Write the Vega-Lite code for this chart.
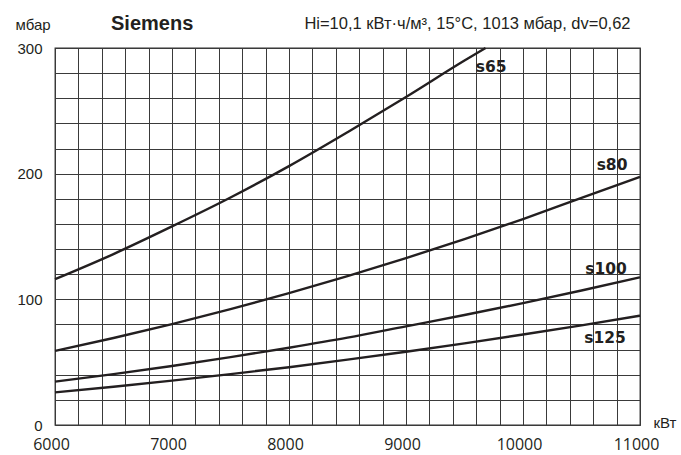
{
  "$schema": "https://vega.github.io/schema/vega-lite/v6.json",
  "width": 585,
  "height": 377,
  "autosize": {"type": "none"},
  "padding": {"left": 55, "top": 48, "right": 41, "bottom": 30},
  "background": "white",
  "config": {
    "view": {"stroke": "#333333", "strokeWidth": 1.3},
    "axis": {"labelColor": "#231f20", "titleColor": "#231f20", "labelOverlap": false, "labelFlush": false}
  },
  "title": {
    "text": "Siemens",
    "anchor": "start",
    "frame": "group",
    "dx": 56,
    "offset": -35,
    "baseline": "alphabetic",
    "font": "Liberation Sans",
    "fontSize": 20,
    "fontWeight": "bold",
    "color": "#231f20"
  },
  "datasets": {
    "curves": [
      {"series": "s65", "kw": 6000, "mbar": 116},
      {"series": "s65", "kw": 6500, "mbar": 136},
      {"series": "s65", "kw": 7000, "mbar": 158},
      {"series": "s65", "kw": 7500, "mbar": 181},
      {"series": "s65", "kw": 8000, "mbar": 206},
      {"series": "s65", "kw": 8500, "mbar": 233},
      {"series": "s65", "kw": 9000, "mbar": 261},
      {"series": "s65", "kw": 9500, "mbar": 290},
      {"series": "s65", "kw": 9680, "mbar": 300},
      {"series": "s80", "kw": 6000, "mbar": 59},
      {"series": "s80", "kw": 6500, "mbar": 69.2},
      {"series": "s80", "kw": 7000, "mbar": 80.3},
      {"series": "s80", "kw": 7500, "mbar": 92.2},
      {"series": "s80", "kw": 8000, "mbar": 104.9},
      {"series": "s80", "kw": 8500, "mbar": 118.4},
      {"series": "s80", "kw": 9000, "mbar": 132.8},
      {"series": "s80", "kw": 9500, "mbar": 147.9},
      {"series": "s80", "kw": 10000, "mbar": 163.9},
      {"series": "s80", "kw": 10500, "mbar": 180.7},
      {"series": "s80", "kw": 11000, "mbar": 197.5},
      {"series": "s100", "kw": 6000, "mbar": 34.5},
      {"series": "s100", "kw": 6500, "mbar": 40.5},
      {"series": "s100", "kw": 7000, "mbar": 47},
      {"series": "s100", "kw": 7500, "mbar": 54},
      {"series": "s100", "kw": 8000, "mbar": 61.5},
      {"series": "s100", "kw": 8500, "mbar": 69.5},
      {"series": "s100", "kw": 9000, "mbar": 78.5},
      {"series": "s100", "kw": 9500, "mbar": 87.5},
      {"series": "s100", "kw": 10000, "mbar": 97},
      {"series": "s100", "kw": 10500, "mbar": 107},
      {"series": "s100", "kw": 11000, "mbar": 117.5},
      {"series": "s125", "kw": 6000, "mbar": 26},
      {"series": "s125", "kw": 6500, "mbar": 30.4},
      {"series": "s125", "kw": 7000, "mbar": 35.3},
      {"series": "s125", "kw": 7500, "mbar": 40.5},
      {"series": "s125", "kw": 8000, "mbar": 46},
      {"series": "s125", "kw": 8500, "mbar": 52},
      {"series": "s125", "kw": 9000, "mbar": 58.3},
      {"series": "s125", "kw": 9500, "mbar": 65},
      {"series": "s125", "kw": 10000, "mbar": 72},
      {"series": "s125", "kw": 10500, "mbar": 79.3},
      {"series": "s125", "kw": 11000, "mbar": 87}
    ],
    "labels": [
      {"series": "s65", "kw": 9727, "mbar": 285},
      {"series": "s80", "kw": 10761, "mbar": 207},
      {"series": "s100", "kw": 10710, "mbar": 124},
      {"series": "s125", "kw": 10701, "mbar": 69}
    ]
  },
  "layer": [
    {
      "data": {"name": "curves"},
      "mark": {"type": "line", "interpolate": "monotone", "color": "#231f20", "strokeWidth": 2.4},
      "encoding": {
        "x": {
          "field": "kw",
          "type": "quantitative",
          "scale": {"domain": [6000, 11000], "nice": false, "zero": false},
          "axis": {
            "values": [6000, 6200, 6400, 6600, 6800, 7000, 7200, 7400, 7600, 7800, 8000, 8200, 8400, 8600, 8800, 9000, 9200, 9400, 9600, 9800, 10000, 10200, 10400, 10600, 10800, 11000],
            "labelExpr": "datum.value % 1000 === 0 ? '' + datum.value : ''",
            "labelOverlap": false,
            "labelFlush": false,
            "labelOffset": -4,
            "labelFont": "Open Sans",
            "labelFontSize": 16,
            "labelPadding": 11,
            "ticks": false,
            "domain": false,
            "grid": true,
            "gridColor": "#3a3a3a",
            "gridWidth": 1,
            "gridOpacity": 1,
            "title": "кВт",
            "titleFont": "Liberation Sans",
            "titleFontSize": 15,
            "titleFontWeight": "normal",
            "titleAlign": "left",
            "titleBaseline": "middle",
            "titleAnchor": "start",
            "titleX": 598,
            "titleY": -3
          }
        },
        "y": {
          "field": "mbar",
          "type": "quantitative",
          "scale": {"domain": [0, 300], "nice": false},
          "axis": {
            "values": [0, 20, 40, 60, 80, 100, 120, 140, 160, 180, 200, 220, 240, 260, 280, 300],
            "labelExpr": "datum.value % 100 === 0 ? '' + datum.value : ''",
            "labelOverlap": false,
            "labelFont": "Liberation Sans",
            "labelFontSize": 15,
            "labelPadding": 13,
            "ticks": false,
            "domain": false,
            "grid": true,
            "gridColor": "#3a3a3a",
            "gridWidth": 1,
            "gridOpacity": 1,
            "title": "мбар",
            "titleFont": "Liberation Sans",
            "titleFontSize": 15,
            "titleFontWeight": "normal",
            "titleAngle": 0,
            "titleAlign": "left",
            "titleBaseline": "middle",
            "titleAnchor": "start",
            "titleX": -40,
            "titleY": -24
          }
        },
        "detail": {"field": "series"}
      }
    },
    {
      "data": {"name": "labels"},
      "mark": {"type": "text", "font": "DejaVu Sans", "fontSize": 15.5, "fontWeight": "bold", "color": "#231f20", "align": "center", "baseline": "middle"},
      "encoding": {
        "x": {
          "field": "kw",
          "type": "quantitative",
          "axis": {
            "orient": "top",
            "labels": false,
            "ticks": false,
            "domain": false,
            "grid": false,
            "title": "Hi=10,1 кВт·ч/м³, 15°C, 1013 мбар, dv=0,62",
            "titleFont": "Liberation Sans",
            "titleFontSize": 16.5,
            "titleFontWeight": "normal",
            "titleAlign": "right",
            "titleBaseline": "alphabetic",
            "titleAnchor": "end",
            "titleX": 575,
            "titleY": -20
          }
        },
        "y": {"field": "mbar", "type": "quantitative", "axis": {"values": [0, 20, 40, 60, 80, 100, 120, 140, 160, 180, 200, 220, 240, 260, 280, 300], "labelExpr": "datum.value % 100 === 0 ? '' + datum.value : ''", "labelOverlap": false}},
        "text": {"field": "series"}
      }
    }
  ],
  "resolve": {"axis": {"x": "independent"}}
}
